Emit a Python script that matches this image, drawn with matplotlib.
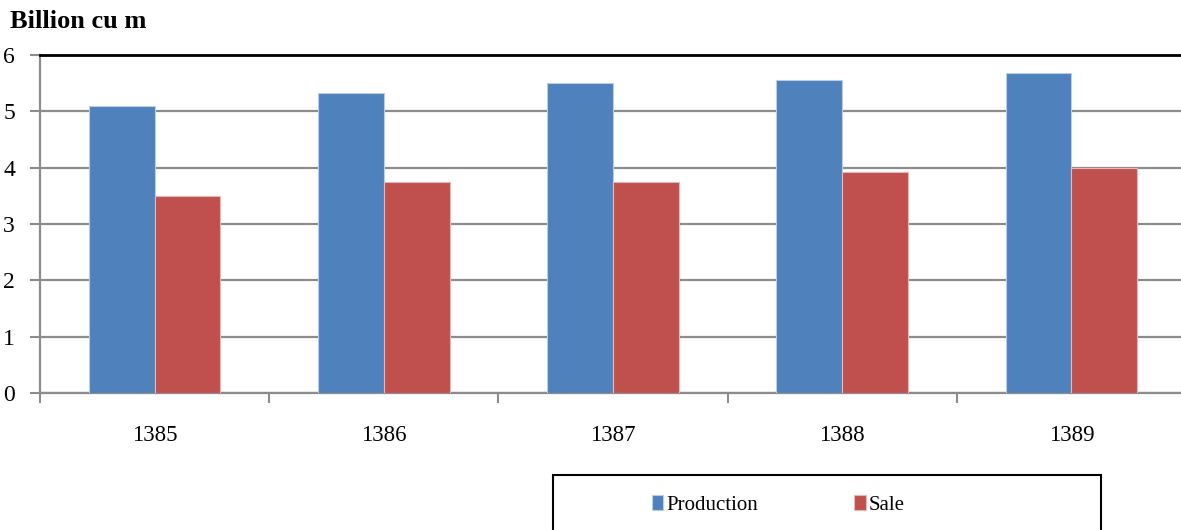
import matplotlib.pyplot as plt
import numpy as np
from matplotlib.patches import Rectangle

years = ['1385', '1386', '1387', '1388', '1389']
production = [5.10, 5.32, 5.50, 5.55, 5.68]
sale = [3.50, 3.75, 3.75, 3.92, 4.00]

plt.rcParams['font.family'] = ['Liberation Serif', 'DejaVu Serif']

fig = plt.figure(figsize=(11.81, 5.30), dpi=100)
ax = fig.add_axes([40 / 1181, 137 / 530, 1146 / 1181, 338 / 530])

x = np.arange(len(years))
w = 0.287
ax.bar(x - w / 2, production, w, color='#4F81BD', edgecolor='#B9CDE5',
       linewidth=0.8, label='Production', zorder=3)
ax.bar(x + w / 2, sale, w, color='#C0504D', edgecolor='#E6B9B8',
       linewidth=0.8, label='Sale', zorder=3)

ax.set_xlim(-0.5, len(years) - 0.5)
ax.set_ylim(0, 6)
ax.set_yticks(range(7))
ax.yaxis.grid(True, color='#8C8C8C', linewidth=1.6, zorder=0)
ax.set_axisbelow(True)

# year labels in the middle, tick marks on the category borders
ax.set_xticks(x)
ax.set_xticklabels(years)
ax.set_xticks(np.arange(-0.5, len(years), 1), minor=True)
ax.tick_params(axis='x', which='major', length=0, pad=23, labelsize=16.5)
ax.tick_params(axis='x', which='minor', length=7, width=1.5, color='#8C8C8C')
ax.tick_params(axis='y', length=7, width=1.5, color='#8C8C8C', pad=11,
               labelsize=17)

for s in ['left', 'bottom']:
    ax.spines[s].set_color('#8C8C8C')
    ax.spines[s].set_linewidth(1.6)
ax.spines['top'].set_color('black')
ax.spines['top'].set_linewidth(2)
ax.spines['right'].set_visible(False)

fig.text(10 / 1181, 1 - 22 / 530, 'Billion cu m', fontsize=19,
         fontweight='bold', va='center', ha='left')

# legend box at the bottom
fig.patches.append(Rectangle((553 / 1181, -0.1), 548 / 1181, 0.1 + 55 / 530,
                             transform=fig.transFigure, facecolor='white',
                             edgecolor='black', linewidth=1.5))
fig.legend(loc='center left', bbox_to_anchor=(652 / 1181, 25 / 530), ncol=2,
           frameon=False, fontsize=15, handlelength=0.55, handleheight=0.7,
           handletextpad=0.15, columnspacing=4.6, borderpad=0,
           borderaxespad=0)

fig.savefig('out.png', dpi=100)
